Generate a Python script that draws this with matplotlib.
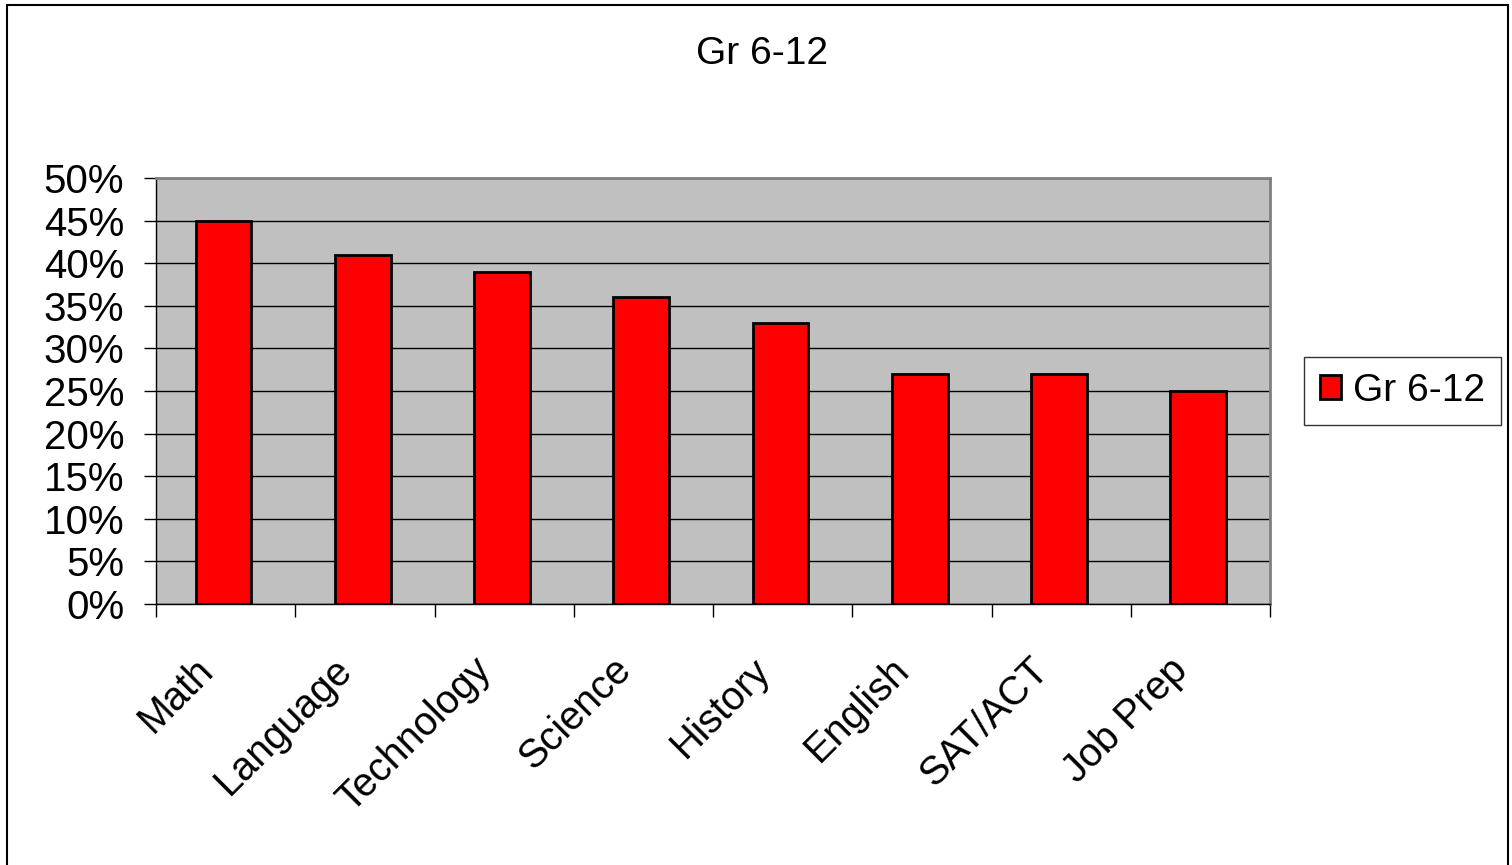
import matplotlib
matplotlib.use("Agg")
import matplotlib.pyplot as plt
from matplotlib.patches import Rectangle
from matplotlib.ticker import MultipleLocator, FuncFormatter
from matplotlib.transforms import ScaledTranslation

categories = ["Math", "Language", "Technology", "Science", "History", "English", "SAT/ACT", "Job Prep"]
values = [45, 41, 39, 36, 33, 27, 27, 25]
series_name = "Gr 6-12"
title = "Gr 6-12"

plt.rcParams['font.family'] = ['Liberation Sans', 'DejaVu Sans']

fig = plt.figure(figsize=(15.12, 8.65), dpi=100)
ax = fig.add_axes([156/1512, 1-604/865, (1270-156)/1512, (604-178)/865])

x = list(range(len(categories)))
ax.bar([i - 0.015 for i in x], values, width=0.4, color='#ff0000', edgecolor='black', linewidth=2,
       label=series_name, zorder=3)

ax.set_xlim(-0.5, len(categories)-0.5)
ax.set_ylim(0, 50)
ax.set_facecolor('#c0c0c0')
ax.yaxis.set_major_locator(MultipleLocator(5))
ax.yaxis.set_major_formatter(FuncFormatter(lambda v, p: f"{int(round(v))}%"))
ax.grid(axis='y', color='black', linewidth=1, zorder=1)
ax.set_axisbelow(True)

ax.set_xticks([i - 0.5 for i in range(len(categories)+1)], minor=False)
ax.set_xticklabels([])
ax.set_xticks(x, minor=True)
ax.set_xticklabels(categories, minor=True, rotation=45, ha='right', va='top', rotation_mode='anchor', fontsize=28.5)
ax.tick_params(axis='x', which='minor', length=0, pad=40)
ax.tick_params(axis='x', which='major', length=9, width=1, color='black', direction='out')
ax.tick_params(axis='y', length=9, width=1, color='black', labelsize=29, pad=14)

off = ScaledTranslation(-32/100, 9/100, fig.dpi_scale_trans)
for lab in ax.get_xticklabels(minor=True):
    lab.set_transform(lab.get_transform() + off)

for s in ['top', 'right']:
    ax.spines[s].set_color('#808080')
    ax.spines[s].set_linewidth(2)
for s in ['left', 'bottom']:
    ax.spines[s].set_color('black')
    ax.spines[s].set_linewidth(1)

fig.text(762/1512, 1-54/865, title, ha='center', va='center', fontsize=28)

leg = ax.legend(loc='center left', bbox_to_anchor=(1304/1512, 1-391/865), bbox_transform=fig.transFigure,
                fontsize=28, frameon=True, fancybox=False, edgecolor='black', handlelength=0.56,
                handleheight=0.56, handletextpad=0.3, borderpad=0.4, borderaxespad=0)
leg.get_frame().set_linewidth(1)

fig.patches.append(Rectangle((7/1512, -0.1), 1501/1512, 0.1 + 1-5/865, transform=fig.transFigure,
                             fill=False, edgecolor='black', linewidth=1.5, clip_on=False))

fig.savefig("out.png", dpi=100)
